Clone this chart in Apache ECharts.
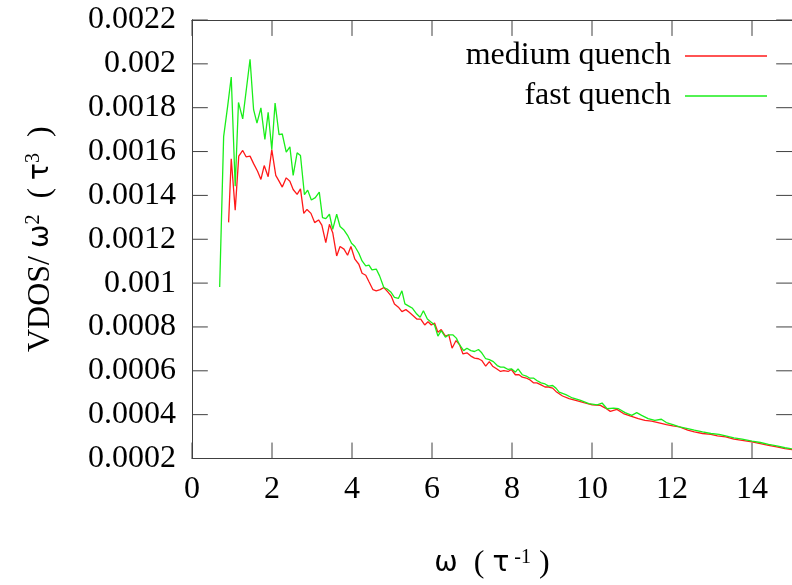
<!DOCTYPE html>
<html>
<head>
<meta charset="utf-8">
<script src="https://cdn.jsdelivr.net/npm/echarts@6/dist/echarts.min.js"></script>
<style>html,body{margin:0;padding:0;background:#fff;}#c{width:792px;height:585px;}</style>
</head>
<body>
<div id="c"></div>
<script>
var seriesNames = ['medium quench', 'fast quench'];
var xTicks = [0, 2, 4, 6, 8, 10, 12, 14];
var yTicks = [0.0002, 0.0004, 0.0006, 0.0008, 0.001, 0.0012, 0.0014, 0.0016, 0.0018, 0.002, 0.0022];
var mediumX = [0.915,0.981,1.080,1.169,1.268,1.352,1.451,1.540,1.639,1.723,1.805,1.904,1.995,2.094,2.176,2.257,2.356,2.447,2.529,2.628,2.712,2.794,2.875,2.974,3.066,3.164,3.246,3.345,3.436,3.518,3.617,3.701,3.800,3.889,3.973,4.072,4.171,4.252,4.344,4.425,4.524,4.606,4.705,4.796,4.895,4.977,5.061,5.160,5.248,5.347,5.431,5.530,5.619,5.718,5.817,5.901,5.983,6.064,6.148,6.230,6.336,6.420,6.502,6.601,6.692,6.774,6.873,6.972,7.063,7.162,7.243,7.342,7.434,7.515,7.614,7.713,7.795,7.904,7.985,8.084,8.176,8.257,8.356,8.438,8.536,8.620,8.727,8.826,8.917,9.016,9.097,9.263,9.427,9.592,9.797,10.005,10.210,10.334,10.458,10.623,10.786,10.952,11.157,11.323,11.488,11.651,11.859,12.022,12.188,12.393,12.559,12.764,12.972,13.135,13.343,13.548,13.753,14.000,14.208,14.413,14.618,14.826,15.0];
var mediumY = [0.001277,0.001567,0.001333,0.001579,0.001605,0.001576,0.001579,0.001545,0.00151,0.001473,0.001536,0.001485,0.001609,0.001491,0.001465,0.001438,0.00148,0.001465,0.001427,0.001405,0.00143,0.001318,0.001336,0.001318,0.001276,0.001288,0.001264,0.001185,0.001268,0.00123,0.001124,0.001167,0.001155,0.001127,0.001167,0.001109,0.001086,0.001045,0.001036,0.001006,0.00097,0.000965,0.00097,0.00098,0.00096,0.000942,0.000905,0.00089,0.00087,0.000879,0.000867,0.000851,0.000836,0.000836,0.000809,0.000824,0.000809,0.000818,0.000776,0.000788,0.000758,0.000764,0.000703,0.000738,0.000718,0.000677,0.000682,0.000667,0.000658,0.000655,0.000647,0.000621,0.000642,0.000621,0.000609,0.000597,0.000601,0.000597,0.000606,0.000582,0.000582,0.000571,0.000567,0.00056,0.000545,0.000545,0.000536,0.000526,0.000526,0.000521,0.000506,0.000485,0.000473,0.000465,0.000455,0.000445,0.000442,0.00043,0.000415,0.000424,0.000405,0.000394,0.000382,0.000374,0.00037,0.000364,0.000355,0.000349,0.000344,0.000329,0.000321,0.000314,0.00031,0.000303,0.000299,0.000288,0.000283,0.000276,0.000268,0.00026,0.000253,0.000245,0.00024];
var fastX = [0.692,0.791,0.890,0.981,1.080,1.162,1.268,1.451,1.540,1.624,1.723,1.822,1.904,1.995,2.077,2.176,2.257,2.356,2.447,2.529,2.628,2.712,2.811,2.892,2.984,3.083,3.182,3.263,3.345,3.436,3.518,3.617,3.701,3.800,3.889,3.988,4.072,4.171,4.252,4.344,4.425,4.499,4.606,4.690,4.796,4.878,4.977,5.061,5.160,5.248,5.323,5.431,5.513,5.619,5.703,5.785,5.884,5.965,6.064,6.148,6.230,6.336,6.420,6.519,6.608,6.692,6.791,6.873,6.972,7.063,7.162,7.243,7.342,7.434,7.533,7.631,7.713,7.795,7.904,7.985,8.084,8.151,8.257,8.356,8.438,8.536,8.620,8.727,8.826,8.917,9.016,9.097,9.179,9.345,9.510,9.716,9.921,10.129,10.252,10.376,10.539,10.663,10.828,10.994,11.118,11.241,11.404,11.570,11.735,11.859,12.022,12.188,12.393,12.559,12.764,12.972,13.177,13.343,13.548,13.753,14.000,14.208,14.413,14.618,14.826,15.0];
var fastY = [0.000982,0.001668,0.001805,0.00194,0.001442,0.001824,0.001749,0.002021,0.001791,0.00173,0.001799,0.001655,0.001779,0.001609,0.001821,0.001677,0.00168,0.001597,0.001621,0.001491,0.001594,0.001582,0.001403,0.001424,0.001379,0.00139,0.001415,0.001299,0.001294,0.001314,0.001245,0.001314,0.001258,0.001242,0.001218,0.001182,0.001167,0.001136,0.001101,0.001079,0.001082,0.00106,0.001064,0.001033,0.00098,0.000973,0.000958,0.000935,0.00093,0.000965,0.000905,0.000894,0.000885,0.000859,0.000844,0.000874,0.000836,0.000824,0.000809,0.000758,0.000783,0.000753,0.000764,0.000764,0.000749,0.000718,0.000692,0.000703,0.000692,0.000688,0.000697,0.000682,0.000655,0.000651,0.000642,0.000624,0.000617,0.000617,0.000606,0.000609,0.000594,0.000609,0.000582,0.000576,0.000567,0.000567,0.000556,0.000545,0.00054,0.00053,0.000533,0.000521,0.000503,0.000491,0.000476,0.000465,0.00045,0.000445,0.000453,0.000427,0.00043,0.000427,0.000409,0.000397,0.000409,0.000397,0.000382,0.000374,0.000379,0.000364,0.000355,0.000344,0.000336,0.000329,0.000321,0.000314,0.00031,0.000303,0.000294,0.000288,0.000279,0.000273,0.000264,0.000258,0.000249,0.000244];

function zip(xs, ys) { return xs.map(function (x, i) { return [x, ys[i]]; }); }

var FONT = 'Liberation Serif';
var GFONT = 'DejaVu Sans';
var FS = 32;
var TICK = 16;
var axisColor = '#404040';
var XMIN = 0, XMAX = 15, YMIN = 0.0002, YMAX = 0.0022;
var W = 792, H = 585;
var GRID = { left: 192, top: 20, right: -7, bottom: 125 };
var plotW = W - GRID.left - GRID.right, plotH = H - GRID.top - GRID.bottom;
var dxTick = TICK / plotW * (XMAX - XMIN);
var dyTick = TICK / plotH * (YMAX - YMIN);

function tickSeries(data) {
  return {
    type: 'line', xAxisIndex: 0, yAxisIndex: 0, data: data,
    symbol: 'none', showSymbol: false, silent: true, clip: false, z: 3,
    lineStyle: { color: axisColor, width: 1 }, itemStyle: { color: axisColor }
  };
}
// inward tick marks on all four sides, one short segment each
var tickSeriesList = [];
xTicks.forEach(function (t) {
  tickSeriesList.push(tickSeries([[t, YMIN], [t, YMIN + dyTick]]));
  tickSeriesList.push(tickSeries([[t, YMAX], [t, YMAX - dyTick]]));
});
yTicks.forEach(function (t) {
  tickSeriesList.push(tickSeries([[XMIN, t], [XMIN + dxTick, t]]));
  tickSeriesList.push(tickSeries([[XMAX, t], [XMAX - dxTick, t]]));
});

var chart = echarts.init(document.getElementById('c'), null, { renderer: 'canvas' });

function makeAxisLine() { return { show: true, lineStyle: { color: axisColor, width: 1 } }; }
var richName = {
  a: { fontFamily: FONT, fontSize: FS, color: '#000' },
  g: { fontFamily: GFONT, fontSize: 28, color: '#000' },
  s: { fontFamily: FONT, fontSize: 20, color: '#000', verticalAlign: 'top', padding: [0, 0, 13, 0] }
};

chart.setOption({
  animation: false,
  backgroundColor: '#ffffff',
  grid: { left: GRID.left, top: GRID.top, right: GRID.right, bottom: GRID.bottom, containLabel: false },
  legend: {
    orient: 'vertical',
    right: 25,
    top: 40,
    padding: 0,
    align: 'right',
    icon: 'rect',
    itemWidth: 82,
    itemHeight: 1.4,
    itemGap: 8,
    data: seriesNames,
    textStyle: { fontFamily: FONT, fontSize: FS, color: '#000', lineHeight: 32, padding: [0, 9, 0, 0] }
  },
  xAxis: [{
    type: 'value', min: XMIN, max: XMAX, interval: 2, position: 'bottom',
    axisLine: makeAxisLine(), axisTick: { show: false }, splitLine: { show: false },
    axisLabel: {
      showMaxLabel: false, margin: 15, fontFamily: FONT, fontSize: FS, color: '#000',
      formatter: function (v) { return xTicks.indexOf(v) >= 0 ? String(v) : ''; }
    },
    name: '{g|ω}{a|  ( }{g|τ}{s| -1}{a| )}',
    nameLocation: 'middle', nameGap: 89,
    nameTextStyle: { rich: richName }
  }, {
    type: 'value', min: XMIN, max: XMAX, interval: 2, position: 'top',
    axisLine: makeAxisLine(), axisTick: { show: false },
    axisLabel: { show: false }, splitLine: { show: false }
  }],
  yAxis: [{
    type: 'value', min: YMIN, max: YMAX, interval: 0.0002, position: 'left',
    axisLine: makeAxisLine(), axisTick: { show: false }, splitLine: { show: false },
    axisLabel: {
      margin: 16, fontFamily: FONT, fontSize: FS, color: '#000',
      formatter: function (v) { return String(parseFloat(v.toFixed(4))); }
    },
    name: '{a|VDOS/ }{g|ω}{s|2}{a|  ( }{g|τ}{s|3}{a|  )}',
    nameLocation: 'middle', nameGap: 135, nameRotate: 90,
    nameTextStyle: { rich: richName }
  }, {
    type: 'value', min: YMIN, max: YMAX, interval: 0.0002, position: 'right',
    axisLine: makeAxisLine(), axisTick: { show: false },
    axisLabel: { show: false }, splitLine: { show: false }
  }],
  series: tickSeriesList.concat([
    {
      name: seriesNames[0], type: 'line', xAxisIndex: 0, yAxisIndex: 0,
      data: zip(mediumX, mediumY), symbol: 'none', showSymbol: false, z: 4,
      lineStyle: { color: '#ff1a1a', width: 1.3 }, itemStyle: { color: '#ff1a1a' }
    }, {
      name: seriesNames[1], type: 'line', xAxisIndex: 0, yAxisIndex: 0,
      data: zip(fastX, fastY), symbol: 'none', showSymbol: false, z: 4,
      lineStyle: { color: '#1aee1a', width: 1.3 }, itemStyle: { color: '#1aee1a' }
    }
  ])
});
</script>
</body>
</html>
